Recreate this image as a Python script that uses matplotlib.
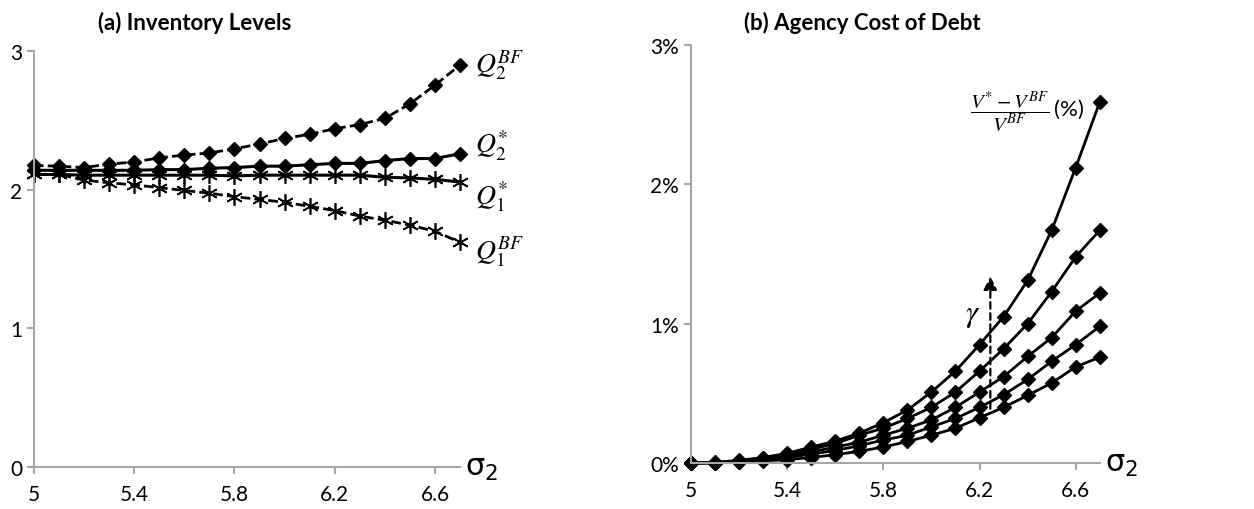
import matplotlib.pyplot as plt
import numpy as np
from matplotlib.ticker import FuncFormatter

plt.rcParams['font.family'] = ['Lato', 'DejaVu Sans']
plt.rcParams['mathtext.fontset'] = 'stix'

sigma2 = [5.0, 5.1, 5.2, 5.3, 5.4, 5.5, 5.6, 5.7, 5.8, 5.9,
          6.0, 6.1, 6.2, 6.3, 6.4, 6.5, 6.6, 6.7]

# panel (a) inventory levels
q2_bf = [2.175, 2.17, 2.16, 2.185, 2.20, 2.23, 2.25, 2.265, 2.295, 2.33,
         2.37, 2.40, 2.44, 2.47, 2.515, 2.62, 2.755, 2.90]
q2_opt = [2.14, 2.14, 2.14, 2.14, 2.14, 2.145, 2.145, 2.155, 2.16, 2.17,
          2.17, 2.18, 2.19, 2.19, 2.21, 2.225, 2.225, 2.26]
q1_opt = [2.11, 2.11, 2.105, 2.105, 2.105, 2.105, 2.105, 2.105, 2.10, 2.105,
          2.105, 2.105, 2.105, 2.105, 2.09, 2.085, 2.075, 2.055]
q1_bf = [2.11, 2.11, 2.07, 2.05, 2.035, 2.015, 1.995, 1.975, 1.95, 1.93,
         1.91, 1.88, 1.85, 1.81, 1.78, 1.745, 1.70, 1.62]

# panel (b) agency cost of debt, in percent, one curve per gamma
cost_g1 = [0, 0.001, 0.006, 0.015, 0.025, 0.04, 0.06, 0.085, 0.115, 0.155,
           0.20, 0.25, 0.325, 0.40, 0.485, 0.575, 0.69, 0.76]
cost_g2 = [0, 0.002, 0.01, 0.025, 0.04, 0.065, 0.09, 0.125, 0.165, 0.20,
           0.26, 0.32, 0.40, 0.49, 0.60, 0.73, 0.85, 0.98]
cost_g3 = [0, 0.003, 0.012, 0.03, 0.05, 0.08, 0.115, 0.15, 0.20, 0.25,
           0.31, 0.40, 0.51, 0.62, 0.765, 0.90, 1.09, 1.22]
cost_g4 = [0, 0.004, 0.015, 0.035, 0.06, 0.10, 0.14, 0.20, 0.25, 0.32,
           0.40, 0.51, 0.66, 0.82, 1.00, 1.23, 1.48, 1.67]
cost_g5 = [0, 0.005, 0.02, 0.04, 0.07, 0.115, 0.158, 0.215, 0.29, 0.38,
           0.51, 0.66, 0.85, 1.05, 1.31, 1.67, 2.12, 2.59]

grey = '#a6a6a6'
asterisk = (6, 2, 0)
dash = (0, (3.5, 1.5))

fig = plt.figure(figsize=(12.54, 5.10), dpi=100)
ax1 = fig.add_axes([0.027, 0.082, 0.34, 0.816])
ax2 = fig.add_axes([0.551, 0.090, 0.326, 0.820])


def style_axis(ax):
    for s in ['top', 'right']:
        ax.spines[s].set_visible(False)
    for s in ['left', 'bottom']:
        ax.spines[s].set_color(grey)
        ax.spines[s].set_linewidth(1.5)
    ax.tick_params(colors=grey, width=1.5, length=5, labelcolor='black',
                   labelsize=15)
    ax.tick_params(axis='x', pad=7)
    ax.set_xlim(5, 6.7)
    ax.set_xticks([5, 5.4, 5.8, 6.2, 6.6])
    ax.set_xticklabels(['5', '5.4', '5.8', '6.2', '6.6'])
    ax.set_ylim(0, 3)
    ax.set_yticks([0, 1, 2, 3])
    ax.text(1.012, 0.0, r'$\mathregular{\sigma_2}$', transform=ax.transAxes,
            fontsize=22, ha='left', va='center', family='DejaVu Sans')


# (a)
ax1.plot(sigma2, q2_bf, color='black', lw=2, ls=dash, marker='D',
         ms=7, clip_on=False)
ax1.plot(sigma2, q2_opt, color='black', lw=2.2, marker='D', ms=7,
         clip_on=False)
ax1.plot(sigma2, q1_opt, color='black', lw=2.2, marker=asterisk, ms=12,
         mew=1.2, clip_on=False)
ax1.plot(sigma2, q1_bf, color='black', lw=2, ls=dash,
         marker=asterisk, ms=12, mew=1.2, clip_on=False)
style_axis(ax1)
ax1.text(6.76, 2.90, r'$Q_2^{BF}$', fontsize=20, va='center', ha='left')
ax1.text(6.76, 2.32, r'$Q_2^{*}$', fontsize=20, va='center', ha='left')
ax1.text(6.76, 1.96, r'$Q_1^{*}$', fontsize=20, va='center', ha='left')
ax1.text(6.76, 1.56, r'$Q_1^{BF}$', fontsize=20, va='center', ha='left')

# (b)
for c in [cost_g1, cost_g2, cost_g3, cost_g4, cost_g5]:
    ax2.plot(sigma2, c, color='black', lw=2, marker='D', ms=7, clip_on=False)
style_axis(ax2)
ax2.yaxis.set_major_formatter(FuncFormatter(lambda v, p: '%d%%' % v))
ax2.annotate('', xy=(6.245, 1.36), xytext=(6.245, 0.37),
             arrowprops=dict(arrowstyle='-|>', color='black', lw=1.6,
                             ls=(0, (3, 2)), mutation_scale=20))
ax2.text(6.17, 1.06, r'$\gamma$', fontsize=22, ha='center', va='center')
ax2.text(6.49, 2.53, r'$\dfrac{V^{*}-V^{BF}}{V^{BF}}$', fontsize=15,
         ha='right', va='center')
ax2.text(6.51, 2.54, '(%)', fontsize=16, ha='left', va='center')

fig.text(0.155, 0.955, '(a) Inventory Levels', fontsize=16, weight='bold',
         ha='center', va='center')
fig.text(0.688, 0.955, '(b) Agency Cost of Debt', fontsize=16, weight='bold',
         ha='center', va='center')

fig.savefig('out.png', dpi=100)
